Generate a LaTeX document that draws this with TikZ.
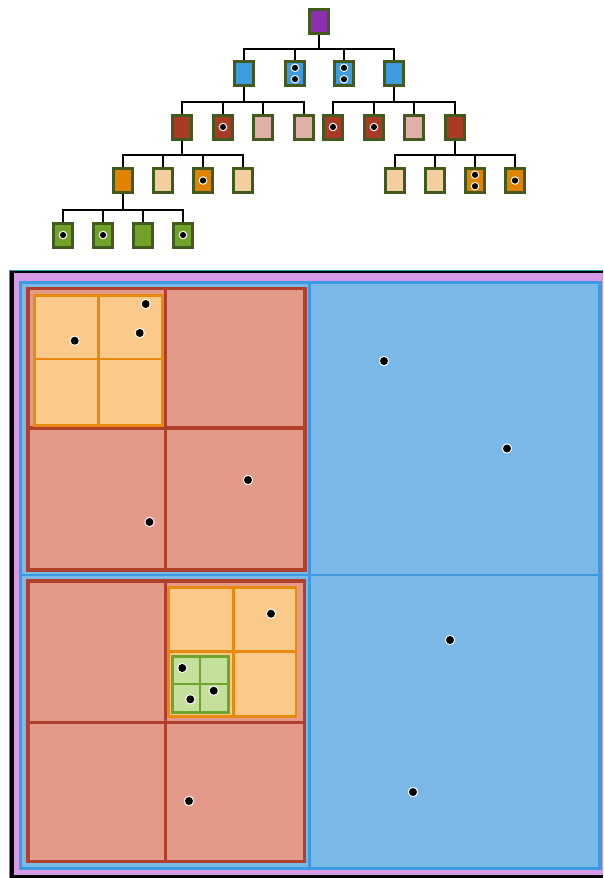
\documentclass[tikz,border=0pt]{standalone}
\usetikzlibrary{calc}
\definecolor{bgPurple}{HTML}{D59BE6}
\definecolor{blueFill}{HTML}{7AB8E8}
\definecolor{blueLine}{HTML}{3D9AE0}
\definecolor{salmonFill}{HTML}{E49A89}
\definecolor{redLine}{HTML}{B0402C}
\definecolor{orangeFill}{HTML}{FBC98A}
\definecolor{orangeLine}{HTML}{E88A10}
\definecolor{greenFill}{HTML}{C5E09A}
\definecolor{greenLine}{HTML}{6FA52D}
\definecolor{edgeTeal}{HTML}{2E9AB4}
\definecolor{nPurple}{HTML}{8E2FB0}
\definecolor{nBlue}{HTML}{3D9BE0}
\definecolor{nRed}{HTML}{A93B26}
\definecolor{nPink}{HTML}{DEB0A7}
\definecolor{nOrange}{HTML}{E08300}
\definecolor{nPeach}{HTML}{F3CE9E}
\definecolor{nGreen}{HTML}{72A22A}
\definecolor{nBorder}{HTML}{435A1E}
\newcommand\qbox[9]{%
  \pgfmathsetmacro\qxa{#1+#9/2}\pgfmathsetmacro\qya{#2+#9/2}%
  \pgfmathsetmacro\qxb{#3-#9/2}\pgfmathsetmacro\qyb{#4-#9/2}%
  \fill[#7] (#1,#2) rectangle (#3,#4);
  \draw[#8, line width=0.9*#9pt] (#5,#2) -- (#5,#4) (#1,#6) -- (#3,#6);
  \draw[#8, line width=#9pt] (\qxa,\qya) rectangle (\qxb,\qyb);
}
\newcommand\pdot[2]{\fill[white] (#1,#2) circle (5.2pt); \fill[black] (#1,#2) circle (4pt);}
\newcommand\tdot[1]{\fill[white] #1 circle (4.3pt); \fill[black] #1 circle (3.1pt);}
\tikzset{
  tn/.style={draw=nBorder, line width=3pt, minimum width=19pt, minimum height=24pt, inner sep=0pt},
  conn/.style={draw=black, line width=2pt}
}
\begin{document}
\begin{tikzpicture}[x=1pt,y=-1pt]
\useasboundingbox (0,0) rectangle (603,878);
% ---------------- tree ----------------
\node[tn, fill=nPurple] (r) at (319,21.5) {};
\foreach \n/\x/\c in {a1/244/nBlue, a2/295/nBlue, a3/344/nBlue, a4/394/nBlue}
  \node[tn, fill=\c] (\n) at (\x,73.5) {};
\foreach \n/\x/\c in {b1/182/nRed, b2/223/nRed, b3/263/nPink, b4/304/nPink,
                      b5/333/nRed, b6/374/nRed, b7/414/nPink, b8/455/nRed}
  \node[tn, fill=\c] (\n) at (\x,127) {};
\foreach \n/\x/\c in {c1/123/nOrange, c2/163/nPeach, c3/203/nOrange, c4/243/nPeach,
                      c5/395/nPeach, c6/435/nPeach, c7/475/nOrange, c8/515/nOrange}
  \node[tn, fill=\c] (\n) at (\x,180.5) {};
\foreach \n/\x in {d1/63, d2/103, d3/143, d4/183}
  \node[tn, fill=nGreen] (\n) at (\x,235) {};
% connectors
\foreach \c in {a1,a2,a3,a4} \draw[conn] (r.south) -- ++(0,13.5) -| (\c.north);
\foreach \c in {b1,b2,b3,b4} \draw[conn] (a1.south) -- ++(0,14.5) -| (\c.north);
\foreach \c in {b5,b6,b7,b8} \draw[conn] (a4.south) -- ++(0,14.5) -| (\c.north);
\foreach \c in {c1,c2,c3,c4} \draw[conn] (b1.south) -- ++(0,14) -| (\c.north);
\foreach \c in {c5,c6,c7,c8} \draw[conn] (b8.south) -- ++(0,14) -| (\c.north);
\foreach \c in {d1,d2,d3,d4} \draw[conn] (c1.south) -- ++(0,15.5) -| (\c.north);
% dots in tree nodes
\tdot{([yshift=5.7pt]a2.center)} \tdot{([yshift=-5.7pt]a2.center)}
\tdot{([yshift=5.7pt]a3.center)} \tdot{([yshift=-5.7pt]a3.center)}
\tdot{(b2.center)} \tdot{(b5.center)} \tdot{(b6.center)}
\tdot{(c3.center)}
\tdot{([yshift=5.7pt]c7.center)} \tdot{([yshift=-5.7pt]c7.center)}
\tdot{(c8.center)}
\tdot{(d1.center)} \tdot{(d2.center)} \tdot{(d4.center)}
% ---------------- quadtree panel ----------------
\fill[black] (10,270.7) rectangle (603,878);
\draw[edgeTeal, line width=0.9pt] (9.9,878) -- (9.9,270.4) -- (603,270.4);
\fill[bgPurple] (14,273.4) rectangle (603,875);
\qbox{19}{280.7}{601.7}{870}{309.5}{575}{blueFill}{blueLine}{3.3}
\qbox{26}{286.7}{306.7}{571.7}{165.4}{428}{salmonFill}{redLine}{3.5}
\qbox{26}{579.3}{306.3}{863}{165.8}{722.4}{salmonFill}{redLine}{3.5}
\qbox{33.3}{294}{164}{427}{98.7}{359.2}{orangeFill}{orangeLine}{2.8}
\qbox{167.3}{586}{297.3}{717.7}{233.3}{651.3}{orangeFill}{orangeLine}{2.8}
\qbox{171.3}{655}{229.7}{713.7}{200.3}{684.3}{greenFill}{greenLine}{2.5}
% points
\pdot{145.7}{304} \pdot{139.7}{333} \pdot{74.7}{340.7}
\pdot{248}{480} \pdot{149.5}{522}
\pdot{384}{361} \pdot{507}{448.5}
\pdot{271}{613.7} \pdot{182.3}{668} \pdot{213.7}{690.7} \pdot{190.3}{699.3}
\pdot{189}{801}
\pdot{450}{640} \pdot{413}{792}
\end{tikzpicture}
\end{document}
